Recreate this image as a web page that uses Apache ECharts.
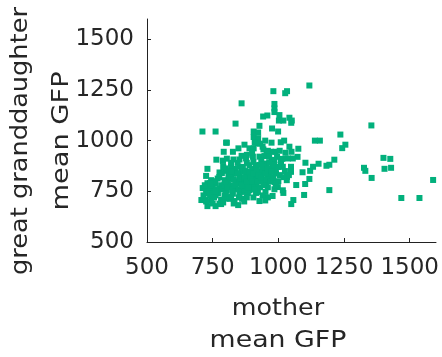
<!DOCTYPE html>
<html>
<head>
<meta charset="utf-8">
<script src="https://cdn.jsdelivr.net/npm/echarts@6/dist/echarts.min.js"></script>
<style>html,body{margin:0;padding:0;background:#fff}#c{width:442px;height:357px}</style>
</head>
<body>
<div id="c"></div>
<script>
// Axis ticks
var xTicks = [500, 750, 1000, 1250, 1500];
var yTicks = [500, 750, 1000, 1250, 1500];

// [mother mean GFP, great granddaughter mean GFP]
var upperPoints = [
  [1118,1272],[981,1244],[1026,1234],[1033,1244],[860,1184],[985,1181],[985,1159],[985,1141],
  [942,1119],[958,1124],[1004,1126],[1002,1099],[1019,1099],[1042,1113],[1051,1099],[1049,1088],
  [837,1084],[711,1045],[761,1045],[928,1073],[976,1060],[999,1045],
  [906,1045],[923,1040],[906,1018],[923,1012],[915,990],[930,985],[801,990]
];
var rightPoints = [
  [1139,1000],[1158,1000],[1236,1030],[1354,1075],[1255,980],[1243,963],[1213,906],[1400,915],
  [1426,910],[1326,866],[1331,851],[1404,861],[1429,866],[1355,816],[1589,806],[1468,717],
  [1537,717],[1194,756],[1103,891],[1132,871],[1153,886],[1183,876],[1194,881],[1092,844],
  [1121,851],[1118,811],[1102,786],[1068,781],[1098,732],[1057,707],[1049,687],[1076,960],[1073,920]
];
var leftPoints = [
  [730,861],[725,826],[712,766],[707,707],[730,677],[761,677],[782,687],[847,682],[928,702],
  [978,727],[1019,742],[764,906],[792,945],[789,900]
];
var clusterPoints = [
  [804,990],[848,962],[871,980],[890,962],[906,962],[922,987],[943,957],[974,990],[1009,992],
  [1022,1000],[1042,970],[1027,940],[1050,945],[989,945],[972,945],[827,945],
  [789,901],[804,911],[829,907],[852,907],[877,912],[903,921],[928,921],[947,924],[985,904],
  [1010,896],[1036,912],[1055,912],[1017,871],[1048,871],[799,863],[820,871],[852,871],[890,879],
  [915,879],[953,887],[979,871],
  [776,843],[804,851],[827,838],[852,829],[877,846],[909,838],[941,838],[969,846],[991,838],
  [1033,821],[1048,846],[744,805],[769,813],[795,805],[820,813],[852,805],[877,813],[903,813],
  [930,805],[960,813],[985,796],[1032,805],[782,780],[808,788],[839,788],[877,780],[915,785],[953,788],
  [719,766],[744,755],[776,763],[804,755],[833,763],[865,747],[890,755],[915,742],[951,747],
  [998,771],[1017,755],[731,747],[761,730],[795,730],[827,738],[852,735],[884,742],[922,747],
  [721,707],[744,705],[782,708],[814,713],[833,702],[862,713],[776,689],
  [790,870],[810,830],[835,860],[860,850],[880,830],[900,860],[925,850],[945,870],[965,830],
  [840,800],[870,795],[895,790],[920,820],[940,800],[960,770],[815,780],[785,760],[870,760],
  [900,770],[930,770],[760,790],[750,770],[740,730],[770,740],[990,860],[1005,830],[1010,880],
  [1000,800],[955,930],[935,900],[880,890],[860,925],[820,890],[845,890],[905,895],[975,905],
  [1025,850],[1040,830],[985,760],[960,720],[940,730],[905,720],[880,720],[800,715],[755,720],
  [730,790],[735,770],[725,740]
];
var denseCorePoints = [
  [745,780],[755,800],[765,760],[775,820],[785,840],[795,780],[800,800],[805,770],[815,820],
  [820,850],[825,760],[830,810],[835,780],[845,840],[850,760],[855,815],[860,780],[865,870],
  [870,820],[875,850],[880,800],[885,770],[890,845],[895,820],[900,800],[905,840],[910,760],
  [915,865],[920,800],[925,830],[930,880],[935,820],[940,860],[945,780],[950,840],[955,810],
  [960,860],[965,890],[970,800],[975,850],[980,820],[985,880],[990,780],[995,920],[1000,870],
  [1005,950],[1015,910],[1020,820],[960,950],[940,970],[950,1000],[965,920],[900,940],[880,930],
  [910,990],[800,740],[820,725],[850,720],[760,750],[740,790],[720,780],[715,730],[725,700],
  [750,690],[790,695],[830,690],[870,700],[950,705]
];

var allPoints = upperPoints.concat(rightPoints, leftPoints, clusterPoints, denseCorePoints);
var FONT = 'DejaVu Sans';
var TXT = '#262626';
var TITLE_FONT = '23.5px "' + FONT + '"';

var chart = echarts.init(document.getElementById('c'), null, {renderer: 'canvas'});
chart.setOption({
  animation: false,
  backgroundColor: '#fff',
  grid: {left: 147, right: 4, top: 19, bottom: 115},
  xAxis: {
    type: 'value', min: xTicks[0], max: 1600, interval: 250,
    splitLine: {show: false},
    axisLine: {show: true, onZero: false, lineStyle: {color: '#222', width: 1}},
    axisTick: {show: true, inside: true, length: 4, lineStyle: {color: '#222'}},
    axisLabel: {fontFamily: FONT, fontSize: 23, color: TXT, margin: 15,
      showMaxLabel: false,
      formatter: function (v) { return xTicks.indexOf(v) >= 0 ? String(v) : ''; }}
  },
  yAxis: {
    type: 'value', min: yTicks[0], max: 1600, interval: 250,
    splitLine: {show: false},
    axisLine: {show: true, onZero: false, lineStyle: {color: '#222', width: 1}},
    axisTick: {show: true, inside: true, length: 4, lineStyle: {color: '#222'}},
    axisLabel: {fontFamily: FONT, fontSize: 23, color: TXT, margin: 13,
      showMaxLabel: false,
      formatter: function (v) { return yTicks.indexOf(v) >= 0 ? String(v) : ''; }}
  },
  graphic: [
    {type: 'text', x: 278, y: 309, scaleX: 1.08,
      style: {text: 'mother', font: TITLE_FONT, fill: TXT, textAlign: 'center', textVerticalAlign: 'middle'}},
    {type: 'text', x: 278, y: 341, scaleX: 1.14,
      style: {text: 'mean GFP', font: TITLE_FONT, fill: TXT, textAlign: 'center', textVerticalAlign: 'middle'}},
    {type: 'text', rotation: Math.PI / 2, x: 21, y: 141, scaleX: 1.09,
      style: {text: 'great granddaughter', font: TITLE_FONT, fill: TXT, textAlign: 'center', textVerticalAlign: 'middle'}},
    {type: 'text', rotation: Math.PI / 2, x: 62, y: 141, scaleX: 1.16,
      style: {text: 'mean GFP', font: TITLE_FONT, fill: TXT, textAlign: 'center', textVerticalAlign: 'middle'}}
  ],
  series: [{
    type: 'scatter',
    symbol: 'rect',
    symbolSize: 6,
    itemStyle: {color: '#02b07c', opacity: 1},
    data: allPoints
  }]
});
</script>
</body>
</html>
